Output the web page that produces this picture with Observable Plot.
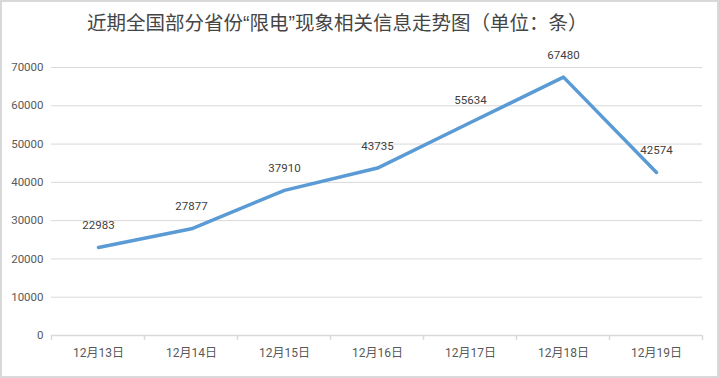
<!DOCTYPE html>
<html><head><meta charset="utf-8">
<script src="https://cdn.jsdelivr.net/npm/d3@7"></script>
<script src="https://cdn.jsdelivr.net/npm/@observablehq/plot@0.6"></script>
<style>
body{margin:0;background:#fff;}
#wrap{position:relative;width:719px;height:378px;overflow:hidden;background:#fff;}
#title{position:absolute;left:87px;top:8px;line-height:28px;font-size:19.5px;color:#454545;font-family:"Noto Sans CJK SC";white-space:nowrap;}
.q{font-family:"Liberation Sans";}
#chart{position:absolute;left:0;top:45px;}
#frame{position:absolute;left:0;top:0;width:719px;height:378px;box-sizing:border-box;border:2px solid #d9d9d9;pointer-events:none;}
</style></head>
<body><div id="wrap"><div id="title">近期全国部分省份<span class="q">“</span>限电<span class="q">”</span>现象相关信息走势图（单位：条）</div><div id="chart"></div><div id="frame"></div></div>
<script>
const dates = ["12月13日","12月14日","12月15日","12月16日","12月17日","12月18日","12月19日"];
const counts = [22983, 27877, 37910, 43735, 55634, 67480, 42574];
const yTicks = [0,10000,20000,30000,40000,50000,60000,70000];
const data = dates.map((d,i)=>({date:d,count:counts[i]}));

const plot = Plot.plot({
  width:719,height:333,marginLeft:51,marginRight:17,marginTop:22,marginBottom:43,
  style:{fontFamily:"Roboto, 'Noto Sans CJK SC'", fontSize:"11px", color:"#595959", background:"transparent"},
  x:{type:"point",domain:dates,padding:0.5,label:null},
  y:{domain:[0,70000],label:null},
  marks:[
    Plot.gridY(yTicks.slice(1),{stroke:"#d9d9d9",strokeOpacity:1,strokeWidth:1}),
    Plot.axisY(yTicks,{tickSize:0,tickPadding:8,label:null,tickFormat:d=>String(d),fill:"#595959",fontSize:11.5}),
    Plot.axisX({tickSize:0,tickPadding:13,label:null,fill:"#595959",fontSize:12}),
    Plot.ruleY([0],{stroke:"#d9d9d9",strokeWidth:1.5}),
    Plot.lineY(data,{x:"date",y:"count",stroke:"#5b9bd5",strokeWidth:3.5}),
    Plot.text(data,{x:"date",y:"count",text:d=>String(d.count),dy:-22,fill:"#404040",fontSize:11.5})
  ]
});
document.getElementById("chart").appendChild(plot);

// boundary tick marks below the category axis, derived from the x scale
const xs = plot.scale("x"), ys = plot.scale("y");
const step = xs.apply(dates[1]) - xs.apply(dates[0]);
const y0 = ys.apply(0);
const bounds = d3.range(dates.length + 1).map(i => xs.apply(dates[0]) - step/2 + i*step);
d3.select(plot).append("g")
  .attr("stroke","#d9d9d9").attr("stroke-width",1.5)
  .selectAll("line").data(bounds).join("line")
  .attr("x1",d=>d).attr("x2",d=>d).attr("y1",y0).attr("y2",y0+5);
</script>
</body></html>
